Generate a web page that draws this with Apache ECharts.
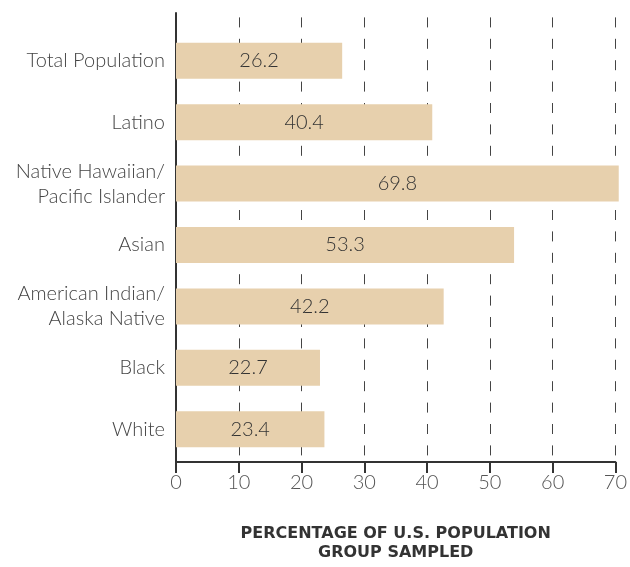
<!DOCTYPE html>
<html>
<head>
<meta charset="utf-8">
<script src="https://cdn.jsdelivr.net/npm/echarts@6/dist/echarts.min.js"></script>
<style>
html,body{margin:0;padding:0;background:#fff;overflow:hidden;}
#chart{width:630px;height:567px;}
</style>
</head>
<body>
<div id="chart"></div>
<script>
const categories = ['Total Population', 'Latino', 'Native Hawaiian/\nPacific Islander', 'Asian', 'American Indian/\nAlaska Native', 'Black', 'White'];
const values = [26.2, 40.4, 69.8, 53.3, 42.2, 22.7, 23.4];
const xTicks = [0, 10, 20, 30, 40, 50, 60, 70];
const axisTitle = 'PERCENTAGE OF U.S. POPULATION\nGROUP SAMPLED';

const FONT = 'Lato';
const chart = echarts.init(document.getElementById('chart'), null, {renderer: 'canvas', width: 630, height: 567});
chart.setOption({
  animation: false,
  grid: [
    {left: 176, right: 10, top: 13, bottom: 91, containLabel: false},
    {left: 176, right: 10, top: 30, bottom: 107, containLabel: false}
  ],
  xAxis: [
    {
      gridIndex: 0, type: 'value', min: xTicks[0], max: xTicks[xTicks.length - 1], interval: 10,
      axisLine: {show: true, lineStyle: {color: '#333', width: 2}},
      axisTick: {show: true, length: 11, lineStyle: {color: '#333', width: 2}},
      axisLabel: {fontFamily: FONT, fontSize: 20, color: '#555', fontWeight: 300, margin: 11},
      splitLine: {show: true, lineStyle: {color: '#444', width: 1, type: [10, 11.4], dashOffset: 17}},
      name: axisTitle, nameLocation: 'middle', nameGap: 62,
      nameTextStyle: {fontFamily: 'DejaVu Sans', fontSize: 16, fontWeight: 'bold', color: '#333', lineHeight: 19}
    },
    {gridIndex: 1, type: 'value', min: xTicks[0], max: xTicks[xTicks.length - 1], show: false}
  ],
  yAxis: [
    {
      gridIndex: 0, type: 'value', min: 0, max: 1,
      axisLine: {show: true, onZero: false, lineStyle: {color: '#333', width: 2}},
      axisTick: {show: false}, axisLabel: {show: false}, splitLine: {show: false}
    },
    {
      gridIndex: 1, type: 'category', data: categories, inverse: true,
      axisLine: {show: false}, axisTick: {show: false},
      axisLabel: {fontFamily: FONT, fontSize: 20, fontWeight: 300, color: '#444', margin: 11, lineHeight: 25, align: 'right'}
    }
  ],
  series: [{
    type: 'bar', xAxisIndex: 1, yAxisIndex: 1, data: values, barWidth: 36,
    itemStyle: {color: '#e7d0ad'},
    label: {show: true, position: 'inside', fontFamily: FONT, fontSize: 20, fontWeight: 300, color: '#333',
      formatter: p => p.value.toFixed(1)}
  }]
});
</script>
</body>
</html>
